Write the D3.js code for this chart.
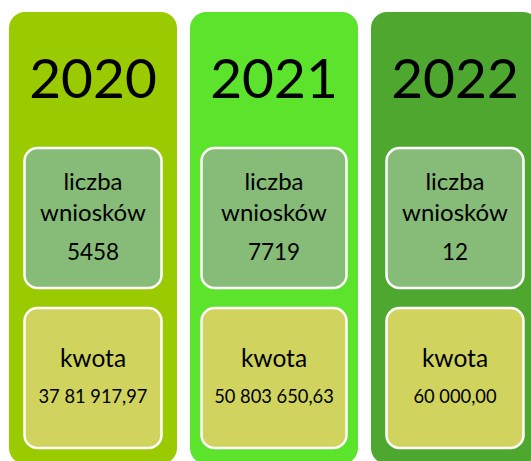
<!DOCTYPE html>
<html><head><meta charset="utf-8">
<script src="https://cdn.jsdelivr.net/npm/d3@7"></script>
<style>html,body{margin:0;padding:0;background:#fff;}svg{display:block;}</style>
</head><body>
<script>
const years = ["2020", "2021", "2022"];
const countLabel = ["liczba", "wniosków"];
const counts = ["5458", "7719", "12"];
const amountLabel = "kwota";
const amounts = ["37 81 917,97", "50 803 650,63", "60 000,00"];
const columnColors = ["#9ACB00", "#5CE32C", "#4EA72E"];
const countBoxColor = "#86BC78";
const amountBoxColor = "#D0D35E";

const W = 531, H = 461;
const font = "Lato, 'Open Sans', sans-serif";
const svg = d3.select("body").append("svg").attr("width", W).attr("height", H);

const colW = 168;
const x = d3.scaleBand().domain(years).range([9, 9 + 181 * 3 - 13]).paddingInner(13 / 181).paddingOuter(0);
const innerW = [137, 145, 137];

const g = svg.selectAll("g.col").data(years).join("g").attr("class", "col")
  .attr("transform", (d, i) => `translate(${9 + i * 181},0)`);

g.append("rect").attr("x", 0).attr("y", 12).attr("width", colW).attr("height", 452)
  .attr("rx", 16).attr("fill", (d, i) => columnColors[i]);

g.append("text").attr("x", colW / 2).attr("y", 98).attr("text-anchor", "middle")
  .attr("font-family", font).attr("font-size", 55).attr("fill", "#000").text(d => d);

g.append("rect").attr("x", (d, i) => (colW - innerW[i]) / 2).attr("y", 148)
  .attr("width", (d, i) => innerW[i]).attr("height", 140).attr("rx", 13)
  .attr("fill", countBoxColor).attr("stroke", "#fff").attr("stroke-width", 2.5);

g.append("text").attr("x", colW / 2).attr("y", 190).attr("text-anchor", "middle")
  .attr("font-family", font).attr("font-size", 24).text(countLabel[0]);
g.append("text").attr("x", colW / 2).attr("y", 221).attr("text-anchor", "middle")
  .attr("font-family", font).attr("font-size", 24).text(countLabel[1]);
g.append("text").attr("x", colW / 2).attr("y", 260).attr("text-anchor", "middle")
  .attr("font-family", font).attr("font-size", 22.5).text((d, i) => counts[i]);

g.append("rect").attr("x", (d, i) => (colW - innerW[i]) / 2).attr("y", 308)
  .attr("width", (d, i) => innerW[i]).attr("height", 140).attr("rx", 13)
  .attr("fill", amountBoxColor).attr("stroke", "#fff").attr("stroke-width", 2.5);

g.append("text").attr("x", colW / 2).attr("y", 367).attr("text-anchor", "middle")
  .attr("font-family", font).attr("font-size", 24.5).text(amountLabel);
g.append("text").attr("x", colW / 2).attr("y", 403).attr("text-anchor", "middle")
  .attr("font-family", font).attr("font-size", 18.3).text((d, i) => amounts[i]);
</script>
</body></html>
